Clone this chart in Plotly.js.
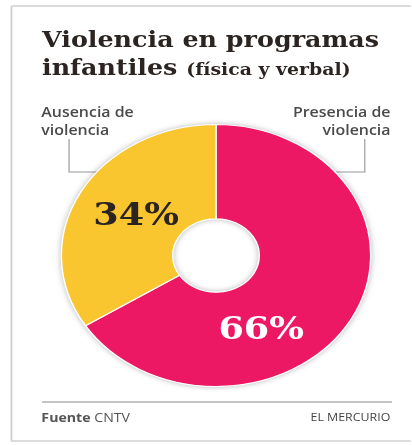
<!DOCTYPE html>
<html><head><meta charset="utf-8">
<script src="https://cdn.plot.ly/plotly-3.0.1.min.js"></script>
<style>
html,body{margin:0;padding:0;background:#fff;overflow:hidden;width:412px;height:445px;}
#chart{width:349px;height:445px;transform:scaleX(1.1805);transform-origin:0 0;}
#chart .pielayer .trace{filter:drop-shadow(0 0 2.5px rgba(0,0,0,0.28));}
</style></head>
<body><div id="chart"></div>
<script>
// Data
const categories = ["Presencia de violencia", "Ausencia de violencia"];
const values = [66, 34];
const sliceColors = ["#EC1863", "#F9C630"];
const titleMain = "Violencia en programas<br>infantiles";
const titleSub = "(física y verbal)";
const labelLeft = "Ausencia de<br>violencia";
const labelRight = "Presencia de<br>violencia";
const sourceText = "<b>Fuente</b> CNTV";
const brandText = "EL MERCURIO";

const W = 349, H = 445;
const px = x => x / W;
const py = y => 1 - y / H;

const trace = {
  type: "pie",
  labels: categories,
  values: values,
  sort: false,
  direction: "clockwise",
  rotation: 0,
  hole: 0.28,
  marker: {colors: sliceColors, line: {color: "#ffffff", width: 1.2}},
  textinfo: "none",
  hoverinfo: "label+percent",
  domain: {x: [px(52), px(314)], y: [py(387), py(124)]}
};

const lineStyle = {color: "#9a9a9a", width: 1};
const shapes = [
  // frame (top, left, bottom edges)
  {type: "line", xref: "paper", yref: "paper", layer: "below",
   x0: px(9.7), x1: px(W - 1), y0: py(6), y1: py(6), line: {color: "#cfcfcf", width: 1.5}},
  {type: "line", xref: "paper", yref: "paper", layer: "below",
   x0: px(9.7), x1: px(9.7), y0: py(6), y1: py(441), line: {color: "#cfcfcf", width: 1.5}},
  {type: "line", xref: "paper", yref: "paper", layer: "below",
   x0: px(9.7), x1: px(W - 1), y0: py(441), y1: py(441), line: {color: "#cfcfcf", width: 1.5}},
  // leader lines
  {type: "path", xref: "paper", yref: "paper", layer: "below",
   path: `M ${px(58.5)} ${py(139)} L ${px(58.5)} ${py(172)} L ${px(309)} ${py(172)} L ${px(309)} ${py(139)}`,
   line: lineStyle},
  // footer rule
  {type: "line", xref: "paper", yref: "paper", layer: "below",
   x0: px(35.6), x1: px(332), y0: py(402), y1: py(402), line: {color: "#8a8a8a", width: 1}}
];

const annotations = [
  {text: labelLeft, xref: "paper", yref: "paper", x: px(33), y: py(101), xanchor: "left", yanchor: "top",
   align: "left", showarrow: false, font: {family: "Open Sans", size: 13.5, color: "#4a4a4a", weight: 600}},
  {text: labelRight, xref: "paper", yref: "paper", x: px(332.5), y: py(101), xanchor: "right", yanchor: "top",
   align: "right", showarrow: false, font: {family: "Open Sans", size: 13.5, color: "#4a4a4a", weight: 600}},
  {text: values[1] + "%", xref: "paper", yref: "paper", x: px(115), y: py(214), xanchor: "center", yanchor: "middle",
   showarrow: false, font: {family: "DejaVu Serif", size: 31, color: "#2b2420", weight: "bold"}},
  {text: values[0] + "%", xref: "paper", yref: "paper", x: px(222), y: py(328), xanchor: "center", yanchor: "middle",
   showarrow: false, font: {family: "DejaVu Serif", size: 31, color: "#ffffff", weight: "bold"}},
  {text: sourceText, xref: "paper", yref: "paper", x: px(33), y: py(417), xanchor: "left", yanchor: "middle",
   showarrow: false, font: {family: "Open Sans", size: 12, color: "#555"}},
  {text: brandText, xref: "paper", yref: "paper", x: px(332.5), y: py(417), xanchor: "right", yanchor: "middle",
   showarrow: false, font: {family: "Open Sans", size: 10.5, color: "#444"}}
];

const layout = {
  width: W, height: H,
  margin: {l: 0, r: 0, t: 0, b: 0},
  paper_bgcolor: "#ffffff",
  showlegend: false,
  title: {
    text: titleMain + ' <span style="font-size:16px">' + titleSub + '</span>',
    x: px(35.6), xref: "paper", xanchor: "left",
    y: py(47), yref: "paper", yanchor: "top",
    font: {family: "DejaVu Serif", size: 21.5, color: "#2b2420", weight: "bold"}
  },
  shapes: shapes,
  annotations: annotations
};

Plotly.newPlot("chart", [trace], layout, {displayModeBar: false, staticPlot: true});
</script></body></html>
